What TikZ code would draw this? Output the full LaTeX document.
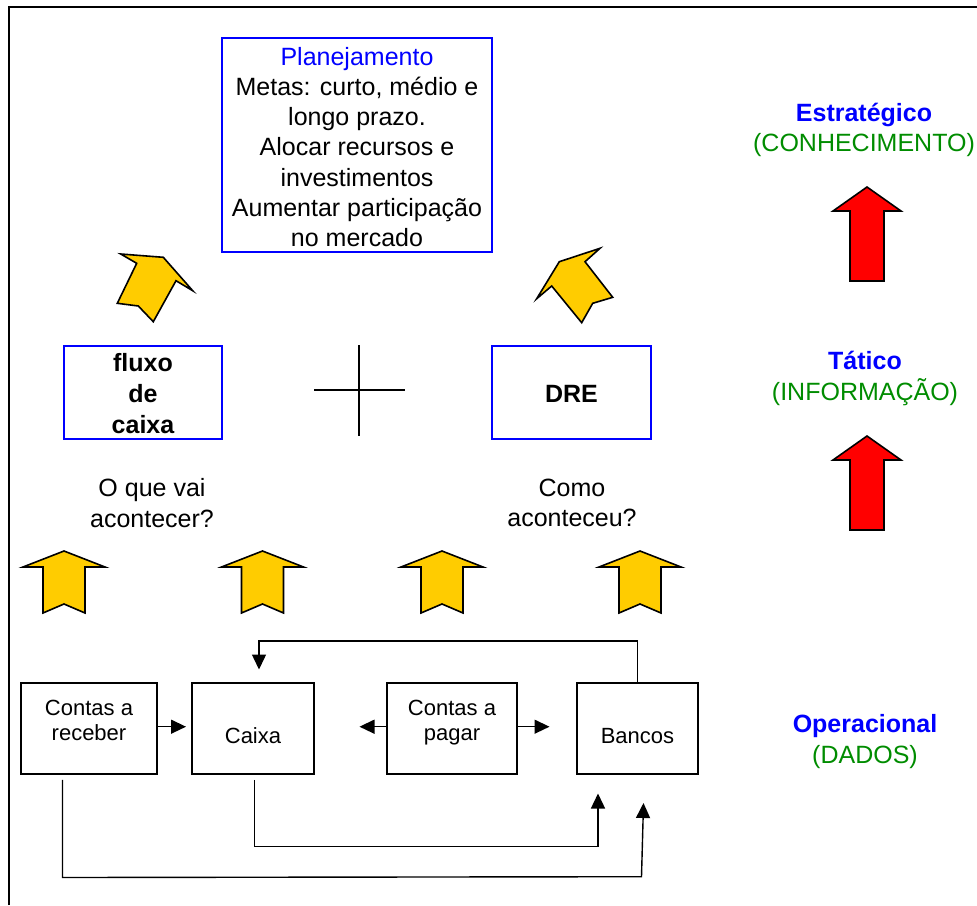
\documentclass[tikz,border=0pt]{standalone}
\usepackage{fontspec}
\setmainfont{Liberation Sans}
\usetikzlibrary{arrows.meta}
\definecolor{myyellow}{RGB}{255,204,0}
\definecolor{myred}{RGB}{255,0,0}
\definecolor{myblue}{RGB}{0,0,255}
\definecolor{mygreen}{RGB}{0,140,0}
\begin{document}
\begin{tikzpicture}[x=1pt,y=-1pt,
  bigtxt/.style={font=\fontsize{25}{30.2}\selectfont, align=center, inner sep=0pt},
  boldtxt/.style={font=\fontsize{25}{31}\selectfont\bfseries, align=center, inner sep=0pt},
  smalltxt/.style={font=\fontsize{22}{25}\selectfont, align=center, inner sep=0pt},
  bluebox/.style={draw=myblue, line width=2pt, inner sep=0pt},
  blackbox/.style={draw=black, line width=1.6pt, inner sep=0pt},
  conn/.style={line width=1.4pt, -{Triangle[length=15pt,width=14pt]}},
  yarrow/.style={fill=myyellow, draw=black, line width=1.6pt, line join=miter},
  rarrow/.style={fill=myred, draw=black, line width=1.6pt, line join=miter}]
\useasboundingbox (0,0) rectangle (977,905);

% frame
\draw[line width=2pt] (9,905) -- (9,7) -- (977,7);

% planning box
\node[bluebox, minimum width=270pt, minimum height=214pt] (plan) at (357,145) {};
\node[bigtxt] (plantxt) at (357,147) {\textcolor{myblue}{Planejamento}\\Metas: curto, médio e\\longo prazo.\\Alocar recursos e\\investimentos\\Aumentar participação\\no mercado};

% tilted yellow arrows
\draw[yarrow] (120.7,254) -- (163.3,257.3) -- (192.7,290.7) -- (176,280.7) -- (153.3,321.7) -- (138.3,306) -- (117.3,303.3) -- (136.7,263.3) -- cycle;
\draw[yarrow] (600,248.3) -- (585,261.7) -- (612.7,297.3) -- (592.7,303.3) -- (581.7,322.7) -- (551.7,286) -- (536.7,298.7) -- (559.3,261.7) -- cycle;

% middle boxes
\node[bluebox, minimum width=158pt, minimum height=93pt] (fluxo) at (143,392.5) {};
\node[boldtxt] (fluxotxt) at (143,394) {fluxo\\de\\caixa};
\node[bluebox, minimum width=159pt, minimum height=93pt] (dre) at (571.5,392.5) {};
\node[boldtxt] (dretxt) at (571.5,394) {DRE};

% cross
\draw[line width=1.5pt] (359,345) -- (359,436);
\draw[line width=1.5pt] (314,390) -- (405,390);

% questions
\node[bigtxt] (q1) at (152,503) {O que vai\\acontecer?};
\node[bigtxt] (q2) at (572,503) {Como\\aconteceu?};

% straight yellow arrows
\foreach \c in {64,262.5,442,640}
  \draw[yarrow] (\c,551) -- ++(41,16) -- ++(-20,0) -- ++(0,46) -- ++(-21,-9) -- ++(-21,9) -- ++(0,-46) -- ++(-20,0) -- cycle;

% red arrows
\draw[rarrow] (867,187) -- (901,211) -- (884,211) -- (884,281) -- (850,281) -- (850,211) -- (833,211) -- cycle;
\draw[rarrow] (867,436) -- (901,460) -- (884,460) -- (884,530) -- (850,530) -- (850,460) -- (833,460) -- cycle;

% right labels
\node[bigtxt] (estr) at (864,130) {\textcolor{myblue}{\bfseries Estratégico}\\\textcolor{mygreen}{(CONHECIMENTO)}};
\node[bigtxt] (tat) at (865,378.5) {\textcolor{myblue}{\bfseries Tático}\\\textcolor{mygreen}{(INFORMAÇÃO)}};
\node[bigtxt] (oper) at (865,741.5) {\textcolor{myblue}{\bfseries Operacional}\\\textcolor{mygreen}{(DADOS)}};

% bottom boxes
\node[blackbox, minimum width=136pt, minimum height=91pt] (rec) at (89,728.5) {};
\node[smalltxt] (rectxt) at (89,720.5) {Contas a\\receber};
\node[blackbox, minimum width=122pt, minimum height=91pt] (cx) at (253,728.5) {};
\node[smalltxt] (cxtxt) at (253,736) {Caixa};
\node[blackbox, minimum width=130pt, minimum height=91pt] (pag) at (452,728.5) {};
\node[smalltxt] (pagtxt) at (452,723) {Contas a\\pagar};
\node[blackbox, minimum width=121pt, minimum height=91pt] (ban) at (637.5,728.5) {};
\node[smalltxt] (bantxt) at (637.5,736) {Bancos};

% connectors
\coordinate (recarr) at (186,726.7);
\draw[conn] (rec.east |- recarr) -- (recarr);
\coordinate (pagL) at (359.5,726.7);
\draw[conn] (pag.west |- pagL) -- (pagL);
\coordinate (pagR) at (549.5,726.7);
\draw[conn] (pag.east |- pagR) -- (pagR);
\coordinate (cxtop) at (259,669.5);
\draw[conn] (ban.north) |- (259,641) -- (cxtop);
\coordinate (ban1) at (598,793.5);
\draw[conn] ([xshift=1.5pt,yshift=-5pt]cx.south) -- ++(0,66.7) -| (ban1);
\coordinate (ban2) at (643.5,803);
\draw[conn] ([xshift=-26.5pt,yshift=-5pt]rec.south) -- ++(0,97.7) -- (641.5,876.7) -- (ban2);
\end{tikzpicture}
\end{document}
